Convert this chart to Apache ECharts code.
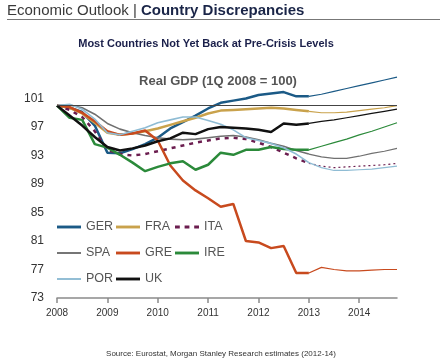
<!DOCTYPE html>
<html>
<head>
<meta charset="utf-8">
<script src="https://cdn.jsdelivr.net/npm/echarts@6/dist/echarts.min.js"></script>
<style>html,body{margin:0;padding:0;background:#fff}#c{width:440px;height:364px}</style>
</head>
<body>
<div id="c"></div>
<script>
var quarters = [];
for (var y = 2008; y <= 2014; y++) { for (var q = 1; q <= 4; q++) quarters.push(y + 'Q' + q); }

var GER = [100, 99.7, 99.1, 97.2, 93.4, 93.3, 93.9, 94.6, 95.5, 96.8, 97.7, 98.6, 99.6, 100.4, 100.7, 101.0, 101.5, 101.7, 101.9, 101.3, 101.3, 101.6, 102.0, 102.4, 102.8, 103.2, 103.6, 104.0];
var FRA = [100, 99.7, 98.9, 97.6, 96.2, 95.9, 96.1, 96.4, 96.8, 97.3, 97.8, 98.3, 98.9, 99.3, 99.4, 99.5, 99.6, 99.7, 99.6, 99.4, 99.2, 99.0, 99.0, 99.1, 99.3, 99.5, 99.7, 100.0];
var ITA = [100, 99.4, 98.4, 96.4, 93.8, 93.2, 93.0, 93.2, 93.6, 94.0, 94.4, 94.8, 95.1, 95.4, 95.5, 95.3, 94.8, 94.2, 93.4, 92.6, 91.9, 91.5, 91.3, 91.4, 91.5, 91.6, 91.7, 91.9];
var SPA = [100, 100.1, 99.7, 98.8, 97.5, 96.7, 96.2, 95.8, 95.5, 95.3, 95.2, 95.3, 95.5, 95.7, 95.8, 95.6, 95.2, 94.7, 94.3, 93.7, 93.2, 92.8, 92.6, 92.6, 92.9, 93.3, 93.6, 94.0];
var GRE = [100, 99.8, 99.0, 97.8, 96.4, 95.9, 96.1, 96.5, 95.1, 91.6, 89.5, 88.1, 87.0, 85.8, 86.2, 81.0, 80.8, 80.0, 80.3, 76.5, 76.5, 77.3, 77.0, 76.8, 76.8, 76.9, 77.0, 77.0];
var IRE = [100, 98.3, 98.0, 94.6, 94.1, 93.1, 92.0, 90.8, 91.4, 91.9, 92.2, 91.0, 91.7, 93.4, 93.1, 93.8, 93.8, 94.2, 93.9, 93.8, 93.8, 94.3, 94.8, 95.3, 95.9, 96.4, 97.0, 97.6];
var POR = [100, 100.2, 99.5, 98.1, 96.2, 95.9, 96.4, 96.9, 97.6, 98.0, 98.4, 98.4, 97.9, 97.4, 96.6, 95.5, 95.1, 94.7, 94.1, 93.2, 92.0, 91.3, 90.9, 90.9, 91.0, 91.1, 91.3, 91.5];
var UK  = [100, 98.6, 97.2, 95.6, 94.2, 93.7, 94.0, 94.4, 95.0, 95.4, 96.2, 96.0, 96.7, 97.0, 96.9, 96.8, 96.6, 96.3, 97.5, 97.3, 97.5, 97.8, 98.0, 98.3, 98.6, 98.9, 99.2, 99.5];

var yTicks = [73, 77, 81, 85, 89, 93, 97, 101];
var splitIndex = 20; // last actual quarter (1Q 2013); estimates afterwards

var countries = [
  {name: 'GER', data: GER, color: '#1b5a86', w: 2.5, type: 'solid'},
  {name: 'FRA', data: FRA, color: '#c9a24c', w: 2.5, type: 'solid'},
  {name: 'ITA', data: ITA, color: '#6b1d4f', w: 2.5, type: [4, 5]},
  {name: 'SPA', data: SPA, color: '#707070', w: 1.6, type: 'solid'},
  {name: 'GRE', data: GRE, color: '#c84a1e', w: 2.5, type: 'solid'},
  {name: 'IRE', data: IRE, color: '#2b8a3a', w: 2.5, type: 'solid'},
  {name: 'POR', data: POR, color: '#8fbcd4', w: 1.6, type: 'solid'},
  {name: 'UK',  data: UK,  color: '#111111', w: 2.5, type: 'solid'}
];

var series = [];
countries.forEach(function (c) {
  var hist = c.data.map(function (v, i) { return i <= splitIndex ? v : null; });
  var fc = c.data.map(function (v, i) { return i >= splitIndex ? v : null; });
  series.push({
    name: c.name + ' est', type: 'line', data: fc, symbol: 'none', silent: true,
    lineStyle: {color: c.color, width: 1.2, type: c.name === 'ITA' ? [2, 3] : 'solid'},
    itemStyle: {color: c.color}
  });
  series.push({
    name: c.name, type: 'line', data: hist, symbol: 'none', silent: true,
    lineStyle: {color: c.color, width: c.w, type: c.type},
    itemStyle: {color: c.color}
  });
});
series[1].markLine = {
  silent: true, symbol: 'none', label: {show: false},
  lineStyle: {color: '#444', width: 1, type: 'solid'},
  data: [{yAxis: 100}]
};
var greIdx = series.findIndex(function (s) { return s.name === 'GRE'; });
series[greIdx].z = 3;

function legendIcon(c) {
  var h = c.w >= 2 ? 3 : 2;
  if (c.name === 'ITA') {
    return 'path://M0,0H5V' + h + 'H0Z M10,0H15V' + h + 'H10Z M20,0H25V' + h + 'H20Z';
  }
  return 'path://M0,0H25V' + h + 'H0Z';
}
function legendCol(names, left) {
  return {
    data: names.map(function (n) {
      var c = countries.filter(function (k) { return k.name === n; })[0];
      return {name: n, icon: legendIcon(c)};
    }),
    orient: 'vertical', left: left, top: 220, padding: 0, itemWidth: 24, itemHeight: 14, itemGap: 12,
    selectedMode: false,
    textStyle: {color: '#555', fontSize: 12.5, fontFamily: 'Liberation Sans', lineHeight: 14}
  };
}

var chart = echarts.init(document.getElementById('c'), null, {renderer: 'canvas'});
chart.setOption({
  animation: false,
  backgroundColor: '#fff',
  grid: {left: 57, right: 43, top: 70, bottom: 66},
  xAxis: {
    type: 'category', data: quarters, boundaryGap: false,
    axisLine: {lineStyle: {color: '#8a8a8a', width: 1.5}},
    axisTick: {interval: 3, length: 5, lineStyle: {color: '#8a8a8a', width: 1.5}},
    axisLabel: {interval: 3, color: '#333', fontSize: 10, margin: 10, fontFamily: 'Liberation Sans',
      formatter: function (v) { return v.slice(0, 4); }},
    splitLine: {show: false}
  },
  yAxis: {
    type: 'value', min: yTicks[0], max: 105, interval: 4,
    axisLine: {show: false}, axisTick: {show: false}, splitLine: {show: false},
    axisLabel: {color: '#333', fontSize: 12, margin: 13, fontFamily: 'Liberation Sans', showMaxLabel: false,
      formatter: function (v) { return yTicks.indexOf(v) >= 0 ? String(v) : ''; }}
  },
  legend: [
    legendCol(['GER', 'SPA', 'POR'], 57),
    legendCol(['FRA', 'GRE', 'UK'], 116),
    legendCol(['ITA', 'IRE'], 175)
  ],
  series: series,
  graphic: [
    {type: 'text', x: 7, y: 11, style: {
      text: '{a|Economic Outlook | }{b|Country Discrepancies}', verticalAlign: 'middle',
      rich: {
        a: {fontFamily: 'Liberation Sans', fontSize: 15, fill: '#3a3a3a'},
        b: {fontFamily: 'Liberation Sans', fontSize: 15, fontWeight: 'bold', fill: '#1a2548'}
      }}},
    {type: 'line', shape: {x1: 7, y1: 19.5, x2: 440, y2: 19.5}, style: {stroke: '#777', lineWidth: 1}},
    {type: 'text', x: 206, y: 44, style: {text: 'Most Countries Not Yet Back at Pre-Crisis Levels',
      align: 'center', verticalAlign: 'middle', fontFamily: 'Liberation Sans', fontSize: 11, fontWeight: 'bold', fill: '#1a1f4a'}},
    {type: 'text', x: 218, y: 81, style: {text: 'Real GDP (1Q 2008 = 100)',
      align: 'center', verticalAlign: 'middle', fontFamily: 'Liberation Sans', fontSize: 13, fontWeight: 'bold', fill: '#555'}},
    {type: 'text', x: 221, y: 354, style: {text: 'Source: Eurostat, Morgan Stanley Research estimates (2012-14)',
      align: 'center', verticalAlign: 'middle', fontFamily: 'Liberation Sans', fontSize: 8, fill: '#333'}}
  ]
});
</script>
</body>
</html>
